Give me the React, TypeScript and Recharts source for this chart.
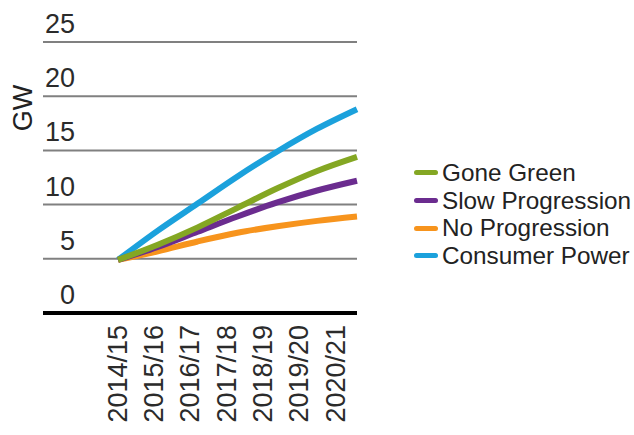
import React from 'react';
import { LineChart, Line, XAxis, YAxis, CartesianGrid, Legend } from 'recharts';

const years = ['2014/15', '2015/16', '2016/17', '2017/18', '2018/19', '2019/20', '2020/21'];
const goneGreen = [4.9, 6.3, 7.9, 9.7, 11.5, 13.1, 14.4];
const slowProgression = [4.9, 6.1, 7.5, 8.9, 10.2, 11.3, 12.2];
const noProgression = [4.9, 5.7, 6.6, 7.4, 8.0, 8.5, 8.9];
const consumerPower = [4.9, 7.6, 10.1, 12.6, 14.9, 17.0, 18.8];
const yTicks = [0, 5, 10, 15, 20, 25];

const series = [
  { key: 'consumer', name: 'Consumer Power', color: '#1ba1dc', values: consumerPower },
  { key: 'none', name: 'No Progression', color: '#f7941d', values: noProgression },
  { key: 'slow', name: 'Slow Progression', color: '#6b2c8f', values: slowProgression },
  { key: 'green', name: 'Gone Green', color: '#84a723', values: goneGreen },
];
const legendOrder = ['green', 'slow', 'none', 'consumer'];

const data = years.map((year, i) => {
  const row: Record<string, string | number> = { year };
  series.forEach((s) => {
    row[s.key] = s.values[i];
  });
  return row;
});

const font = '"Liberation Sans", Arial, sans-serif';

const YTick = ({ x, y, payload }: any) => (
  <text x={x + 32} y={y - 9} textAnchor="end" fontSize={27} fill="#2b2b2b" fontFamily={font}>
    {payload.value}
  </text>
);

const XTick = ({ x, y, payload }: any) => (
  <text
    x={x}
    y={y}
    dy="0.36em"
    textAnchor="end"
    transform={`rotate(-90, ${x}, ${y})`}
    fontSize={27}
    fill="#2b2b2b"
    fontFamily={font}
  >
    {payload.value}
  </text>
);

const LegendBox = () => (
  <div style={{ fontFamily: font, fontSize: 24.3, color: '#222' }}>
    {legendOrder.map((k) => {
      const s = series.find((d) => d.key === k)!;
      return (
        <div key={k} style={{ display: 'flex', alignItems: 'center', height: 27.7, whiteSpace: 'nowrap' }}>
          <span
            style={{
              display: 'inline-block',
              width: 24,
              height: 5,
              borderRadius: 3,
              background: s.color,
              marginRight: 4,
            }}
          />
          {s.name}
        </div>
      );
    })}
  </div>
);

export default function App() {
  return (
    <div style={{ position: 'absolute', left: 0, top: 0 }}>
      <LineChart width={634} height={435} data={data} margin={{ top: 42, right: 277, bottom: 0, left: 0 }}>
        <CartesianGrid xAxisId="lab" horizontal vertical={false} stroke="#808080" strokeWidth={2} />
        <XAxis xAxisId="pos" dataKey="year" hide padding={{ left: 75, right: 0 }} />
        <XAxis
          xAxisId="lab"
          dataKey="year"
          height={122}
          interval={0}
          padding={{ left: 74, right: 22 }}
          tickLine={false}
          tickSize={0}
          tickMargin={12}
          axisLine={{ stroke: '#000', strokeWidth: 4 }}
          tick={<XTick />}
        />
        <YAxis
          width={43}
          domain={[0, 25]}
          ticks={yTicks}
          axisLine={false}
          tickLine={false}
          tickSize={0}
          tickMargin={0}
          tick={<YTick />}
          label={({ viewBox }: any) => (
            <text
              x={viewBox.x + 22}
              y={viewBox.y + 66}
              transform={`rotate(-90, ${viewBox.x + 22}, ${viewBox.y + 66})`}
              textAnchor="middle"
              dy="0.36em"
              fontSize={27}
              fill="#222"
              fontFamily={font}
            >
              GW
            </text>
          )}
        />
        {series.map((s) => (
          <Line
            key={s.key}
            xAxisId="pos"
            type="monotone"
            dataKey={s.key}
            name={s.name}
            stroke={s.color}
            strokeWidth={6}
            dot={false}
            activeDot={false}
            isAnimationActive={false}
          />
        ))}
        <Legend
          layout="vertical"
          align="center"
          verticalAlign="middle"
          wrapperStyle={{ left: 414, top: 159, width: 220 }}
          content={<LegendBox />}
        />
      </LineChart>
    </div>
  );
}
